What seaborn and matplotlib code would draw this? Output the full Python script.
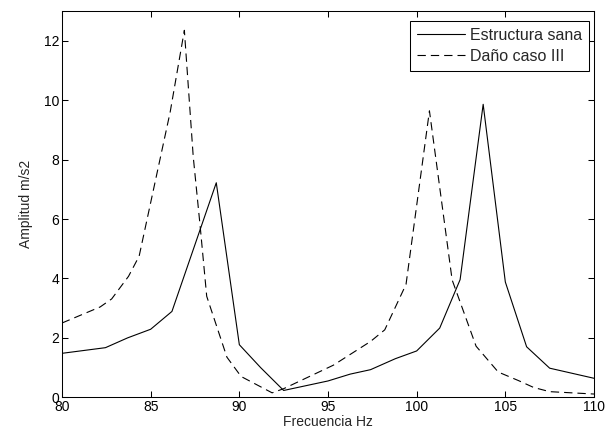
import numpy as np
import pandas as pd
import matplotlib
matplotlib.use("Agg")
import matplotlib.pyplot as plt
import seaborn as sns

# ---- data ----
freq_sana = [80.0, 82.45, 83.7, 85.0, 86.2, 88.7, 90.0, 91.2, 92.5, 95.0, 96.25,
             97.4, 98.8, 100.0, 101.3, 102.45, 103.75, 105.0, 106.2, 107.5, 110.0]
amp_sana = [1.48, 1.67, 2.0, 2.29, 2.89, 7.22, 1.77, 1.0, 0.23, 0.55, 0.78,
            0.93, 1.30, 1.56, 2.33, 3.96, 9.86, 3.88, 1.70, 0.98, 0.64]

freq_dano = [80.0, 82.15, 82.8, 83.75, 84.35, 86.1, 86.9, 87.4, 87.8, 88.16, 89.3,
             90.1, 91.85, 92.5, 95.3, 97.4, 98.2, 99.4, 100.72, 102.0, 103.35,
             104.6, 105.75, 106.6, 107.5, 110.0]
amp_dano = [2.50, 3.04, 3.31, 4.07, 4.75, 9.6, 12.35, 8.1, 5.7, 3.4, 1.35,
            0.70, 0.15, 0.29, 1.08, 1.88, 2.27, 3.80, 9.64, 3.95, 1.72,
            0.85, 0.56, 0.33, 0.19, 0.11]

label_sana = "Estructura sana"
label_dano = "Daño caso III"
x_label = "Frecuencia Hz"
y_label = "Amplitud m/s2"
x_ticks = [80, 85, 90, 95, 100, 105, 110]
y_ticks = [0, 2, 4, 6, 8, 10, 12]

df = pd.concat([
    pd.DataFrame({"freq": freq_sana, "amp": amp_sana, "serie": label_sana}),
    pd.DataFrame({"freq": freq_dano, "amp": amp_dano, "serie": label_dano}),
], ignore_index=True)

sns.set_style("white")
plt.rcParams["font.family"] = ["Liberation Sans", "DejaVu Sans"]
plt.rcParams["font.size"] = 10
plt.rcParams["axes.edgecolor"] = "black"
plt.rcParams["axes.linewidth"] = 0.75

fig = plt.figure(figsize=(6.09, 4.38), dpi=100)
ax = fig.add_axes([62 / 609, 1 - 397.3 / 438, (594 - 62) / 609, (397.3 - 11) / 438])

sns.lineplot(data=df, x="freq", y="amp", hue="serie", style="serie",
             hue_order=[label_sana, label_dano], style_order=[label_sana, label_dano],
             palette={label_sana: "black", label_dano: "black"},
             dashes={label_sana: "", label_dano: (7.5, 4.5)},
             estimator=None, sort=False, linewidth=0.8, ax=ax)

ax.set_xlim(80, 110)
ax.set_ylim(0, 13)
ax.set_xticks(x_ticks)
ax.set_yticks(y_ticks)
ax.set_xticklabels([str(t) for t in x_ticks])
ax.set_yticklabels([str(t) for t in y_ticks])
ax.tick_params(direction="in", length=4.5, width=0.75, top=True, right=True,
               bottom=True, left=True, labelsize=10, colors="black", pad=2)
ax.set_xlabel(x_label, fontsize=10, labelpad=1)
ax.set_ylabel(y_label, fontsize=10, labelpad=8)
for s in ax.spines.values():
    s.set_visible(True)
    s.set_color("black")
    s.set_linewidth(0.75)

leg = ax.legend(loc="upper right", bbox_to_anchor=((589 - 62) / 532, (397.3 - 20.7) / 386.3),
                borderaxespad=0, fontsize=11.5, fancybox=False, framealpha=1,
                edgecolor="black", handlelength=3.0, handletextpad=0.3,
                labelspacing=0.38, borderpad=0.45, title=None)
leg.get_frame().set_linewidth(0.75)

fig.savefig("out.png", dpi=100, facecolor="white")
